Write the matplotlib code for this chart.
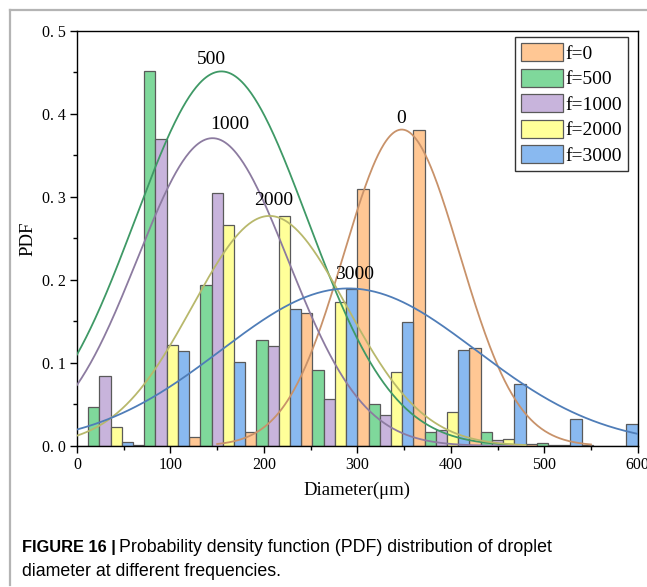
import numpy as np
import matplotlib
matplotlib.use("Agg")
import matplotlib.pyplot as plt
from matplotlib.lines import Line2D
from matplotlib.ticker import MultipleLocator, FixedLocator, FixedFormatter

# ---------------- data ----------------
series_labels = ["f=0", "f=500", "f=1000", "f=2000", "f=3000"]
curve_labels = ["0", "500", "1000", "2000", "3000"]
bin_starts = [0, 60, 120, 180, 240, 300, 360, 420, 480, 540]

pdf_f0    = [0.0,    0.001,  0.011, 0.017,  0.160, 0.309, 0.380,  0.118,  0.003, 0.001]
pdf_f500  = [0.047,  0.451,  0.194, 0.1275, 0.091, 0.051, 0.0165, 0.0165, 0.004, 0.0]
pdf_f1000 = [0.084,  0.370,  0.305, 0.120,  0.056, 0.037, 0.0196, 0.0068, 0.001, 0.0]
pdf_f2000 = [0.0225, 0.1215, 0.266, 0.277,  0.173, 0.089, 0.041,  0.0088, 0.001, 0.0]
pdf_f3000 = [0.005,  0.114,  0.1015, 0.1645, 0.189, 0.149, 0.116, 0.0746, 0.0325, 0.026]

# Gaussian fit parameters: (mean, sigma, peak, x-from, x-to)
fit_f0    = (347.5, 62.0, 0.381, 150, 550)
fit_f500  = (154.5, 92.0, 0.451, 0, 480)
fit_f1000 = (145.0, 80.6, 0.3706, 0, 480)
fit_f2000 = (206.0, 82.7, 0.277, 0, 480)
fit_f3000 = (290.5, 136.7, 0.1897, 0, 600)

# label anchor points (x, y) for curve annotations
label_pos = [(346.7, 0.394), (144, 0.465), (163, 0.3875), (211, 0.296), (297.5, 0.207)]

xticks = [0, 100, 200, 300, 400, 500, 600]
yticks = [0.0, 0.1, 0.2, 0.3, 0.4, 0.5]
ytick_labels = ["0. 0", "0. 1", "0. 2", "0. 3", "0. 4", "0. 5"]

# ---------------- style ----------------
bar_colors = ["#FFC794", "#7FD89B", "#C8B4DC", "#FFFF99", "#89B9F0"]
line_colors = ["#C8926A", "#3F9966", "#8C7BA0", "#B8B86C", "#4F7DB8"]
bar_w = 12

W, H = 647, 587
fig = plt.figure(figsize=(W / 100, H / 100), dpi=100)
serif = ["Liberation Serif", "DejaVu Serif"]

ax = fig.add_axes([77 / W, 1 - 446 / H, (637.7 - 77) / W, (446 - 30.7) / H])

series = [pdf_f0, pdf_f500, pdf_f1000, pdf_f2000, pdf_f3000]
fits = [fit_f0, fit_f500, fit_f1000, fit_f2000, fit_f3000]
starts = np.array(bin_starts, dtype=float)
handles = []
for i, vals in enumerate(series):
    b = ax.bar(starts + i * bar_w, vals, width=bar_w, align="edge",
               color=bar_colors[i], edgecolor="#5a5a5a", linewidth=0.9, zorder=2,
               label=series_labels[i])
    handles.append(b)

for i, (mu, sg, pk, x0, x1) in enumerate(fits):
    xs = np.linspace(x0, x1, 400)
    ys = pk * np.exp(-(xs - mu) ** 2 / (2 * sg ** 2))
    ax.plot(xs, ys, color=line_colors[i], lw=1.3, zorder=3)
    lx, ly = label_pos[i]
    ax.text(lx, ly, curve_labels[i], ha="center", va="center", fontsize=14,
            family=serif, zorder=4)

ax.set_xlim(0, 600)
ax.set_ylim(0, 0.5)
ax.xaxis.set_major_locator(FixedLocator(xticks))
ax.xaxis.set_minor_locator(MultipleLocator(50))
ax.yaxis.set_major_locator(FixedLocator(yticks))
ax.yaxis.set_major_formatter(FixedFormatter(ytick_labels))
ax.yaxis.set_minor_locator(MultipleLocator(0.05))
ax.tick_params(axis="both", which="major", direction="out", length=5, width=1,
               labelsize=11.5, pad=3)
ax.tick_params(axis="both", which="minor", direction="out", length=3, width=1)
for lab in ax.get_xticklabels() + ax.get_yticklabels():
    lab.set_family(serif)
for sp in ax.spines.values():
    sp.set_linewidth(1.0)
    sp.set_color("black")

ax.set_xlabel("Diameter(μm)", fontsize=13.5, family=serif, labelpad=6)
ax.set_ylabel("PDF", fontsize=13.5, family=serif, labelpad=4)

leg = ax.legend(handles=handles, loc="upper right",
                bbox_to_anchor=(627.7 / W, 1 - 37.3 / H),
                bbox_transform=fig.transFigure, borderaxespad=0,
                prop={"family": serif, "size": 14}, fancybox=False,
                framealpha=1, edgecolor="#333333", handlelength=2.2,
                handleheight=1.05, handletextpad=0.1, labelspacing=0.3,
                borderpad=0.3)
leg.get_frame().set_linewidth(1.0)

# figure frame lines (top and left, gray)
fig.add_artist(Line2D([10 / W, 1], [1 - 10 / H, 1 - 10 / H], transform=fig.transFigure,
                      color="#b4b4b4", lw=1.6))
fig.add_artist(Line2D([10 / W, 10 / W], [1 - 10 / H, 1 - 585 / H], transform=fig.transFigure,
                      color="#b4b4b4", lw=1.6))

# caption
sans = ["Liberation Sans", "DejaVu Sans"]
fig.text(22 / W, 1 - 552 / H, "FIGURE 16 |", fontsize=11.8, family=sans,
         fontweight="bold", ha="left", va="baseline")
fig.text(119 / W, 1 - 552 / H,
         "Probability density function (PDF) distribution of droplet",
         fontsize=12.8, family=sans, ha="left", va="baseline")
fig.text(22 / W, 1 - 576 / H, "diameter at different frequencies.",
         fontsize=12.8, family=sans, ha="left", va="baseline")

fig.savefig("out.png", dpi=100)
